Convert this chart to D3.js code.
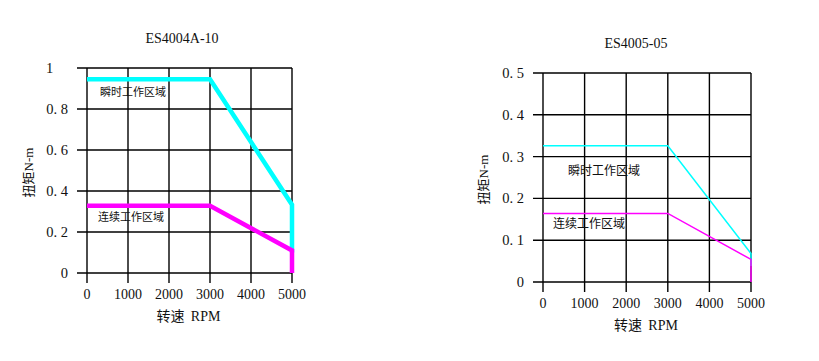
<!DOCTYPE html>
<html>
<head>
<meta charset="utf-8">
<script src="https://cdn.jsdelivr.net/npm/d3@7"></script>
<style>
  body { margin: 0; background: #fff; }
  text { fill: #111; }
</style>
</head>
<body>
<div id="chart"></div>
<script>
// speed points (RPM) shared by both curves
var speeds = [0, 3000, 5000, 5000]
var xTicks = [0, 1000, 2000, 3000, 4000, 5000]

// ES4004A-10
var titleA = "ES4004A-10"
var peakA = [0.945, 0.945, 0.333, 0.1]
var contA = [0.328, 0.328, 0.11, 0]
var yTicksA = [0, 0.2, 0.4, 0.6, 0.8, 1]

// ES4005-05
var titleB = "ES4005-05"
var peakB = [0.326, 0.326, 0.068, 0.038]
var contB = [0.164, 0.164, 0.054, 0]
var yTicksB = [0, 0.1, 0.2, 0.3, 0.4, 0.5]

var peakLabel = "瞬时工作区域"
var contLabel = "连续工作区域"
var xLabel = ["转速\u00a0\u00a0", "RPM"]
var yLabel = ["扭矩", "N-m"]

var svg = d3.select("#chart").append("svg")
    .attr("width", 819)
    .attr("height", 361)

var serif = "'Liberation Serif', 'DejaVu Serif', serif"
var cjk = "'Noto Sans CJK SC', sans-serif"

function drawChart(cfg){
   var g = svg.append("g")
   var x = d3.scaleLinear().domain([0, 5000]).range([cfg.left, cfg.right])
   var y = d3.scaleLinear().domain([0, cfg.yMax]).range([cfg.bottom, cfg.top])

   // grid: horizontal lines (with tick stub on the left)
   g.selectAll(".hg").data(cfg.yTicks).enter().append("line")
       .attr("x1", cfg.left - 10).attr("x2", cfg.right)
       .attr("y1", d => y(d)).attr("y2", d => y(d))
       .attr("stroke", "#000").attr("stroke-width", 1.4)
   // vertical lines (with stub below)
   g.selectAll(".vg").data(xTicks).enter().append("line")
       .attr("x1", d => x(d)).attr("x2", d => x(d))
       .attr("y1", cfg.top).attr("y2", cfg.bottom + 10)
       .attr("stroke", "#000").attr("stroke-width", 1.4)

   // tick labels ("1" sits left-aligned like the original)
   g.selectAll(".yl").data(cfg.yTicks).enter().append("text")
       .attr("x", d => d === 1 ? cfg.left - 41 : cfg.left - 19)
       .attr("y", d => y(d))
       .attr("dy", "0.35em")
       .attr("text-anchor", d => d === 1 ? "start" : "end")
       .style("font-family", serif).style("font-size", "14.5px")
       .text(d => d === 0 || d === 1 ? String(d) : String(d).replace(".", ".\u00a0"))
   g.selectAll(".xl").data(xTicks).enter().append("text")
       .attr("x", d => x(d))
       .attr("y", cfg.bottom + 21)
       .attr("dy", "0.35em")
       .attr("text-anchor", "middle")
       .style("font-family", serif).style("font-size", "14px")
       .text(d => d)

   // curves
   var line = d3.line().x(d => x(d[0])).y(d => y(d[1]))
   svg.append("path")
       .datum(speeds.map((s, i) => [s, cfg.peak[i]]))
       .attr("d", line).attr("fill", "none")
       .attr("stroke", "#00ffff").attr("stroke-width", cfg.lw)
   svg.append("path")
       .datum(speeds.map((s, i) => [s, cfg.cont[i]]))
       .attr("d", line).attr("fill", "none")
       .attr("stroke", "#ff00ff").attr("stroke-width", cfg.lw)

   // region labels
   svg.append("text").attr("x", cfg.peakPos[0]).attr("y", cfg.peakPos[1])
       .attr("dy", "0.35em")
       .style("font-family", cjk).style("font-size", cfg.fs + "px")
       .text(peakLabel)
   svg.append("text").attr("x", cfg.contPos[0]).attr("y", cfg.contPos[1])
       .attr("dy", "0.35em")
       .style("font-family", cjk).style("font-size", cfg.fs + "px")
       .text(contLabel)

   // titles
   svg.append("text").attr("x", cfg.titleX).attr("y", cfg.titleY)
       .attr("dy", "0.35em").attr("text-anchor", "middle")
       .style("font-family", serif).style("font-size", "14px")
       .text(cfg.title)
   var xl = svg.append("text").attr("x", (cfg.left + cfg.right) / 2 - 1).attr("y", cfg.bottom + 43)
       .attr("dy", "0.35em").attr("text-anchor", "middle")
       .style("font-size", "14px")
   xl.append("tspan").style("font-family", cjk).text(xLabel[0])
   xl.append("tspan").style("font-family", serif).text(xLabel[1])
   var yl = svg.append("text")
       .attr("transform", "translate(" + cfg.yLabX + "," + ((cfg.top + cfg.bottom) / 2 + 2) + ") rotate(-90)")
       .attr("dy", "0.35em").attr("text-anchor", "middle")
       .style("font-size", "13px")
   yl.append("tspan").style("font-family", cjk).text(yLabel[0])
   yl.append("tspan").style("font-family", serif).text(yLabel[1])
}

drawChart({
   title: titleA, titleX: 182, titleY: 38,
   left: 87, right: 292, top: 68, bottom: 273, yMax: 1,
   yTicks: yTicksA, peak: peakA, cont: contA, lw: 4.5, fs: 11,
   peakPos: [100, 92], contPos: [98, 217], yLabX: 28
})
drawChart({
   title: titleB, titleX: 636, titleY: 43,
   left: 543, right: 751, top: 73, bottom: 282, yMax: 0.5,
   yTicks: yTicksB, peak: peakB, cont: contB, lw: 1.5, fs: 12,
   peakPos: [568, 171], contPos: [553, 224], yLabX: 483
})
</script>
</body>
</html>
